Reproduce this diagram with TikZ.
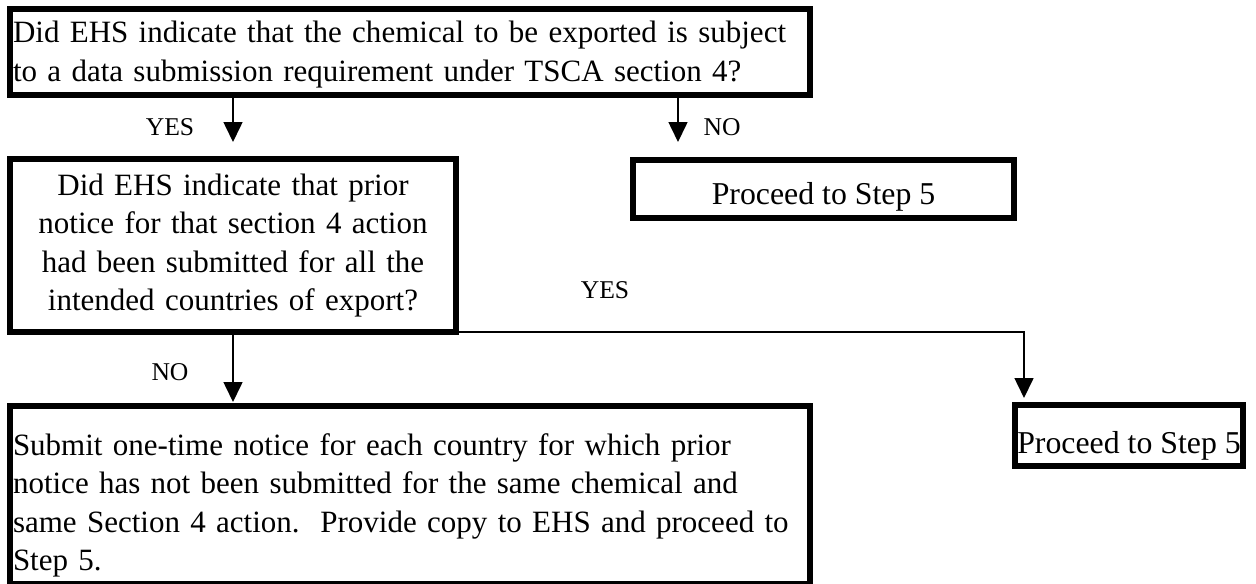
\documentclass[tikz,border=0pt]{standalone}
\usepackage{fontspec}
\setmainfont{Liberation Serif}
\usetikzlibrary{arrows.meta}

\begin{document}
\begin{tikzpicture}[x=0.5pt,y=-0.5pt,
                    box/.style={draw,rectangle,line width=3pt,inner ysep=0pt,inner xsep=1.5pt,
                                anchor=north west,font=\fontsize{15.5}{19.25}\selectfont},
                    step box/.style={box,inner xsep=0pt,font=\fontsize{15.9}{19.25}\selectfont},
                    answer/.style={anchor=base,font=\fontsize{12.8}{15}\selectfont},
                    link/.style={line width=0.8pt,-{Triangle[length=10pt,width=9.5pt]}}]

    \useasboundingbox (0,0) rectangle (1256,583);

    % Define boxes
    \node[box,text width=397pt,align=left,text height=17pt,text depth=26pt] (Q1) at (7,6)
        {Did EHS indicate that the chemical to be exported is subject\\
         to a data submission requirement under TSCA section 4?};
    \node[box,text width=220pt,align=center,text height=18pt,text depth=68.5pt] (Q2) at (7,156)
        {Did EHS indicate that prior\\
         notice for that section 4 action\\
         had been submitted for all the\\
         intended countries of export?};
    \node[step box,minimum width=190.5pt,text height=22pt,text depth=7pt] (P1) at (630,157)
        {Proceed to Step 5};
    \node[step box,minimum width=114pt,text height=24pt,text depth=6.5pt] (P2) at (1012,402)
        {Proceed to Step 5};
    \node[box,text width=397pt,align=left,text height=24.5pt,text depth=64.5pt] (A) at (7,403)
        {Submit one-time notice for each country for which prior\\
         notice has not been submitted for the same chemical and\\
         same Section 4 action.\ \ Provide copy to EHS and proceed to\\
         Step 5.};

    % Answers
    \node[answer] (yes1) at (170,135) {YES};
    \node[answer] (no1) at (722,135) {NO};
    \node[answer] (yes2) at (605,298) {YES};
    \node[answer] (no2) at (170,380) {NO};

    % Connect boxes
    \coordinate (noX) at ([xshift=24pt]P1.north west);
    \coordinate (yesX) at ([xshift=6pt]P2.north west);
    \draw[link,shorten >=7pt] (Q2.north |- Q1.south) -- (Q2.north);
    \draw[link,shorten >=7.5pt] (Q1.south -| noX) -- (P1.north -| noX);
    \draw[link,shorten >=0.5pt] (Q2.south) -- (Q2.south |- A.north);
    \draw[link,shorten >=2pt] ([yshift=1.5pt]Q2.south east) -| (P2.north -| yesX);

\end{tikzpicture}
\end{document}
